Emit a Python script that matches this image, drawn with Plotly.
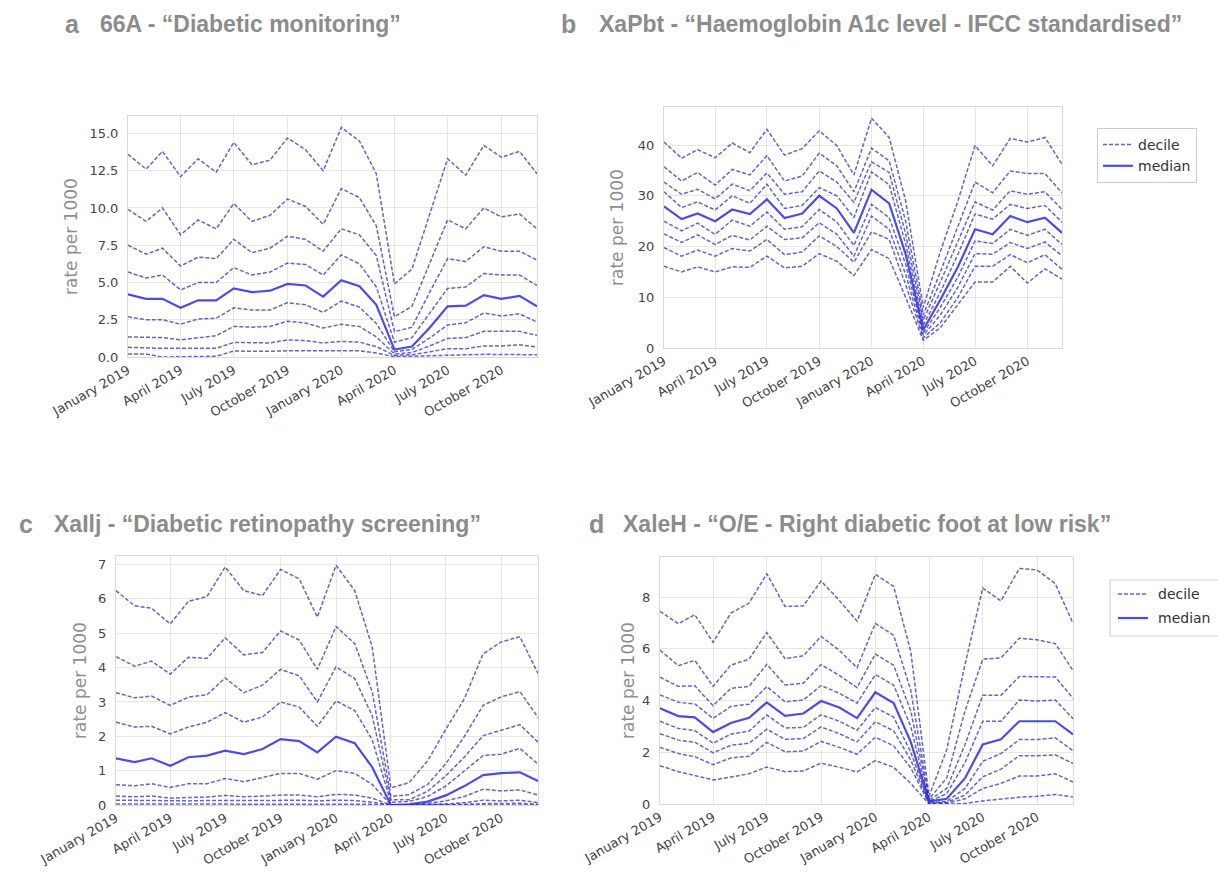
import plotly.graph_objects as go
import pandas as pd

# ---------------- data ----------------
months = pd.date_range("2019-01-01", periods=24, freq="MS")
tick_text = ["January 2019", "April 2019", "July 2019", "October 2019",
             "January 2020", "April 2020", "July 2020", "October 2020"]

# panel a : 66A "Diabetic monitoring"
a_p10 = [0.2, 0.2, 0.0, 0.0, 0.0, 0.05, 0.4, 0.38, 0.38, 0.42, 0.42, 0.4, 0.43, 0.42, 0.27, 0.03, 0.05, 0.1, 0.15, 0.15, 0.18, 0.18, 0.2, 0.15]
a_p20 = [0.65, 0.6, 0.58, 0.58, 0.6, 0.58, 0.98, 0.94, 0.94, 1.15, 1.1, 0.94, 1.05, 1.0, 0.7, 0.1, 0.15, 0.35, 0.56, 0.56, 0.74, 0.74, 0.82, 0.67]
a_p30 = [1.35, 1.3, 1.3, 1.15, 1.27, 1.43, 2.05, 2.0, 2.05, 2.4, 2.28, 1.94, 2.2, 2.05, 1.35, 0.2, 0.3, 0.75, 1.25, 1.3, 1.72, 1.72, 1.72, 1.45]
a_p40 = [2.7, 2.5, 2.5, 2.2, 2.55, 2.6, 3.3, 3.15, 3.15, 3.65, 3.5, 3.0, 3.75, 3.35, 2.25, 0.35, 0.5, 1.3, 2.15, 2.3, 2.95, 2.75, 2.9, 2.35]
a_p50 = [4.2, 3.9, 3.9, 3.3, 3.8, 3.8, 4.6, 4.35, 4.45, 4.9, 4.8, 4.05, 5.15, 4.75, 3.5, 0.5, 0.7, 2.0, 3.4, 3.45, 4.15, 3.9, 4.1, 3.4]
a_p60 = [5.7, 5.3, 5.5, 4.5, 5.0, 5.0, 6.0, 5.5, 5.7, 6.3, 6.2, 5.5, 6.85, 6.25, 4.7, 1.0, 1.3, 3.0, 4.6, 4.7, 5.6, 5.5, 5.5, 4.8]
a_p70 = [7.5, 6.9, 7.3, 6.1, 6.7, 6.6, 7.9, 7.0, 7.3, 8.1, 7.9, 7.1, 8.6, 8.2, 6.8, 1.7, 2.0, 4.4, 6.6, 6.4, 7.4, 7.1, 7.1, 6.5]
a_p80 = [9.9, 9.1, 10.0, 8.2, 9.2, 8.6, 10.3, 9.1, 9.5, 10.6, 10.1, 8.9, 11.3, 10.7, 8.8, 2.7, 3.4, 6.3, 9.2, 8.6, 10.0, 9.4, 9.6, 8.6]
a_p90 = [13.6, 12.6, 13.8, 12.1, 13.3, 12.4, 14.4, 12.9, 13.2, 14.7, 13.9, 12.5, 15.4, 14.5, 12.3, 4.9, 5.9, 9.6, 13.3, 12.2, 14.2, 13.4, 13.8, 12.3]

# panel b : XaPbt "Haemoglobin A1c level - IFCC standardised"
b_p10 = [16.1, 15.0, 16.0, 15.0, 16.0, 15.9, 18.1, 15.8, 16.1, 18.6, 17.1, 14.3, 19.4, 17.6, 10.0, 1.5, 4.0, 8.5, 13.0, 13.0, 16.1, 12.8, 15.6, 13.6]
b_p20 = [19.8, 18.1, 19.3, 18.1, 19.6, 19.1, 21.4, 18.4, 18.9, 22.1, 20.0, 16.9, 22.9, 21.4, 12.5, 2.0, 5.0, 10.0, 16.1, 16.1, 18.4, 16.8, 18.4, 15.5]
b_p30 = [22.5, 20.8, 22.3, 20.4, 22.2, 21.3, 24.0, 21.4, 21.7, 24.7, 22.4, 18.1, 26.0, 23.4, 14.5, 2.5, 6.5, 12.0, 18.6, 18.5, 20.8, 19.6, 20.9, 18.2]
b_p40 = [25.0, 23.1, 24.6, 22.4, 25.2, 24.0, 26.8, 23.4, 23.9, 27.3, 24.8, 20.2, 28.3, 25.7, 16.5, 3.0, 8.0, 14.0, 21.1, 20.6, 23.4, 22.2, 23.4, 20.4]
b_p50 = [27.9, 25.4, 26.5, 25.0, 27.3, 26.4, 29.3, 25.6, 26.5, 30.0, 27.5, 22.7, 31.2, 28.5, 18.5, 3.6, 9.5, 16.0, 23.4, 22.4, 26.0, 24.8, 25.7, 22.7]
b_p60 = [30.8, 27.7, 28.8, 27.2, 30.0, 28.5, 32.3, 27.5, 28.1, 31.6, 30.0, 25.7, 34.7, 32.2, 20.5, 4.5, 11.0, 18.5, 26.4, 25.4, 28.3, 27.5, 28.1, 24.8]
b_p70 = [32.7, 30.3, 31.3, 29.4, 32.3, 31.0, 34.5, 30.3, 30.8, 34.9, 32.7, 28.7, 36.7, 34.6, 22.5, 5.5, 13.0, 21.0, 28.8, 27.2, 31.0, 30.3, 30.8, 27.3]
b_p80 = [35.7, 32.9, 34.6, 32.1, 35.2, 34.1, 37.9, 32.9, 33.9, 38.4, 35.9, 30.8, 39.4, 36.9, 25.0, 6.5, 15.0, 24.0, 32.7, 30.6, 34.9, 34.4, 34.4, 30.6]
b_p90 = [40.6, 37.4, 39.1, 37.5, 40.4, 38.5, 43.1, 38.0, 39.3, 42.8, 39.9, 34.1, 45.3, 41.5, 29.0, 8.0, 19.0, 29.0, 39.9, 35.9, 41.3, 40.6, 41.5, 36.2]

# panel c : XaIIj "Diabetic retinopathy screening"
c_p10 = [0.03, 0.03, 0.03, 0.02, 0.02, 0.03, 0.03, 0.03, 0.03, 0.03, 0.03, 0.02, 0.03, 0.03, 0.02, 0.0, 0.0, 0.0, 0.0, 0.0, 0.01, 0.01, 0.01, 0.0]
c_p20 = [0.14, 0.13, 0.13, 0.12, 0.12, 0.13, 0.14, 0.13, 0.13, 0.14, 0.14, 0.12, 0.14, 0.13, 0.08, 0.0, 0.0, 0.0, 0.01, 0.02, 0.04, 0.04, 0.05, 0.02]
c_p30 = [0.26, 0.24, 0.26, 0.2, 0.22, 0.23, 0.28, 0.24, 0.26, 0.29, 0.29, 0.24, 0.31, 0.29, 0.2, 0.0, 0.0, 0.01, 0.03, 0.07, 0.14, 0.12, 0.14, 0.07]
c_p40 = [0.59, 0.56, 0.62, 0.51, 0.62, 0.62, 0.77, 0.68, 0.8, 0.92, 0.92, 0.75, 1.0, 0.92, 0.6, 0.0, 0.01, 0.05, 0.12, 0.25, 0.46, 0.41, 0.44, 0.29]
c_p50 = [1.36, 1.25, 1.36, 1.14, 1.39, 1.44, 1.58, 1.48, 1.63, 1.92, 1.86, 1.53, 1.99, 1.8, 1.1, 0.0, 0.02, 0.1, 0.28, 0.55, 0.87, 0.93, 0.95, 0.7]
c_p60 = [2.41, 2.27, 2.29, 2.07, 2.27, 2.41, 2.69, 2.41, 2.56, 3.0, 2.85, 2.29, 3.03, 2.75, 1.9, 0.08, 0.1, 0.25, 0.55, 1.0, 1.44, 1.48, 1.65, 1.19]
c_p70 = [3.27, 3.12, 3.17, 2.9, 3.14, 3.21, 3.7, 3.27, 3.49, 3.95, 3.76, 3.0, 4.02, 3.68, 2.6, 0.15, 0.15, 0.4, 0.85, 1.4, 2.02, 2.17, 2.34, 1.83]
c_p80 = [4.32, 4.04, 4.19, 3.81, 4.3, 4.27, 4.87, 4.37, 4.44, 5.07, 4.8, 3.95, 5.2, 4.7, 3.3, 0.25, 0.3, 0.6, 1.2, 2.0, 2.9, 3.15, 3.3, 2.55]
c_p90 = [6.24, 5.8, 5.73, 5.27, 5.93, 6.07, 6.93, 6.24, 6.1, 6.86, 6.58, 5.47, 6.98, 6.24, 4.6, 0.5, 0.65, 1.29, 2.2, 3.1, 4.4, 4.75, 4.9, 3.83]

# panel d : XaleH "O/E - Right diabetic foot at low risk"
d_p10 = [1.48, 1.25, 1.1, 0.93, 1.04, 1.17, 1.43, 1.25, 1.28, 1.58, 1.42, 1.24, 1.68, 1.42, 0.8, 0.0, 0.0, 0.02, 0.12, 0.2, 0.26, 0.3, 0.37, 0.27]
d_p20 = [2.19, 1.95, 1.83, 1.52, 1.78, 1.85, 2.38, 2.02, 2.05, 2.42, 2.19, 1.92, 2.58, 2.25, 1.4, 0.02, 0.03, 0.2, 0.6, 0.8, 1.08, 1.08, 1.17, 0.85]
d_p30 = [2.72, 2.47, 2.39, 1.98, 2.27, 2.35, 2.89, 2.5, 2.53, 2.98, 2.72, 2.4, 3.18, 2.83, 1.7, 0.03, 0.06, 0.35, 1.05, 1.35, 1.87, 1.87, 1.9, 1.57]
d_p40 = [3.2, 2.92, 2.84, 2.35, 2.7, 2.82, 3.44, 2.94, 2.96, 3.45, 3.2, 2.85, 3.73, 3.36, 2.0, 0.05, 0.1, 0.6, 1.65, 1.95, 2.49, 2.49, 2.56, 2.06]
d_p50 = [3.7, 3.4, 3.35, 2.78, 3.13, 3.33, 3.93, 3.41, 3.5, 3.98, 3.73, 3.32, 4.32, 3.9, 2.4, 0.1, 0.2, 1.0, 2.3, 2.5, 3.2, 3.2, 3.2, 2.69]
d_p60 = [4.22, 3.93, 3.87, 3.31, 3.77, 3.86, 4.54, 3.95, 4.02, 4.58, 4.28, 3.9, 5.0, 4.6, 3.0, 0.1, 0.4, 1.6, 3.2, 3.2, 4.02, 3.98, 4.02, 3.3]
d_p70 = [4.9, 4.55, 4.57, 3.8, 4.47, 4.55, 5.4, 4.6, 4.67, 5.39, 4.97, 4.5, 5.8, 5.36, 3.6, 0.15, 0.6, 2.3, 4.2, 4.2, 4.93, 4.93, 4.91, 4.09]
d_p80 = [5.95, 5.35, 5.55, 4.55, 5.37, 5.6, 6.63, 5.62, 5.73, 6.48, 5.94, 5.27, 6.98, 6.52, 4.4, 0.2, 1.0, 3.6, 5.6, 5.65, 6.41, 6.35, 6.2, 5.16]
d_p90 = [7.45, 6.97, 7.32, 6.25, 7.38, 7.77, 8.9, 7.64, 7.66, 8.62, 7.87, 7.07, 8.88, 8.41, 5.9, 0.3, 2.1, 5.4, 8.35, 7.85, 9.11, 9.05, 8.52, 6.98]

a_ticks = [0, 2.5, 5, 7.5, 10, 12.5, 15]
a_ticktext = ["0.0", "2.5", "5.0", "7.5", "10.0", "12.5", "15.0"]
b_ticks = [0, 10, 20, 30, 40]
c_ticks = [0, 1, 2, 3, 4, 5, 6, 7]
d_ticks = [0, 2, 4, 6, 8]

titles = [
    ("a", "66A - \u201cDiabetic monitoring\u201d"),
    ("b", "XaPbt - \u201cHaemoglobin A1c level - IFCC standardised\u201d"),
    ("c", "XaIlj - \u201cDiabetic retinopathy screening\u201d"),
    ("d", "XaleH - \u201cO/E - Right diabetic foot at low risk\u201d"),
]
legend_labels = ["decile", "median"]

# ---------------- layout geometry (pixels) ----------------
W, H = 1218, 879
boxes = {  # left, right, top, bottom
    "a": (128, 537, 116, 357),
    "b": (664, 1062, 107, 348),
    "c": (116, 538, 556, 805),
    "d": (660, 1073, 557, 804),
}

DEC_COLOR = "rgba(40,40,175,0.72)"
MED_COLOR = "rgba(45,45,225,0.85)"
GREY_TXT = "#8c8c8c"

panels = [
    ("a", "x", "y", [a_p10, a_p20, a_p30, a_p40, a_p60, a_p70, a_p80, a_p90], a_p50, 16.17, a_ticks, a_ticktext, False),
    ("b", "x2", "y2", [b_p10, b_p20, b_p30, b_p40, b_p60, b_p70, b_p80, b_p90], b_p50, 47.5, b_ticks, [str(v) for v in b_ticks], True),
    ("c", "x3", "y3", [c_p10, c_p20, c_p30, c_p40, c_p60, c_p70, c_p80, c_p90], c_p50, 7.25, c_ticks, [str(v) for v in c_ticks], False),
    ("d", "x4", "y4", [d_p10, d_p20, d_p30, d_p40, d_p60, d_p70, d_p80, d_p90], d_p50, 9.55, d_ticks, [str(v) for v in d_ticks], False),
]

fig = go.Figure()
layout = dict(
    width=W, height=H, margin=dict(l=0, r=0, t=0, b=0),
    paper_bgcolor="white", plot_bgcolor="white",
    font=dict(family="DejaVu Sans", color="#444"),
    showlegend=True,
)
annotations = []
shapes = []

for key, xa, ya, deciles, median, ytop, yticks, yticktext, leg in panels:
    for i, d in enumerate(deciles):
        fig.add_trace(go.Scatter(
            x=months, y=d, xaxis=xa, yaxis=ya, mode="lines",
            line=dict(color=DEC_COLOR, width=1.5, dash="4px,2px"),
            name=legend_labels[0], showlegend=(leg and i == 0), hoverinfo="skip"))
    fig.add_trace(go.Scatter(
        x=months, y=median, xaxis=xa, yaxis=ya, mode="lines",
        line=dict(color=MED_COLOR, width=2.2),
        name=legend_labels[1], showlegend=leg, hoverinfo="skip"))

    l, r, t, b = boxes[key]
    xname = "xaxis" if xa == "x" else "xaxis" + xa[1:]
    yname = "yaxis" if ya == "y" else "yaxis" + ya[1:]
    layout[xname] = dict(
        domain=[l / W, r / W], anchor=ya, type="date",
        range=[months[0], months[-1]],
        tickvals=list(months[::3]), ticktext=tick_text, tickangle=-30,
        tickfont=dict(size=13, color="#444", family="DejaVu Sans"),
        showgrid=True, gridcolor="#e6e6e6", gridwidth=1,
        showline=True, linecolor="#d9d9d9", linewidth=1, mirror=True,
        ticks="", zeroline=False, automargin=False,
    )
    layout[yname] = dict(
        domain=[1 - b / H, 1 - t / H], anchor=xa,
        range=[0, ytop], tickvals=yticks, ticktext=yticktext,
        tickfont=dict(size=13, color="#444", family="DejaVu Sans"),
        showgrid=True, gridcolor="#e6e6e6", gridwidth=1,
        showline=True, linecolor="#d9d9d9", linewidth=1, mirror=True,
        ticks="", zeroline=False, automargin=False, ticklabelstandoff=6,
    )

# y-axis titles
ytitle_pos = {"a": (71, 237), "b": (617, 228), "c": (80, 681), "d": (628, 681)}
for k, (px, py) in ytitle_pos.items():
    annotations.append(dict(
        text="rate per 1000", x=px / W, y=1 - py / H, xref="paper", yref="paper",
        showarrow=False, textangle=-90, xanchor="center", yanchor="middle",
        font=dict(size=17, color="#8f8f8f", family="DejaVu Sans")))

# panel titles
title_pos = {"a": (63, 98, 24), "b": (559, 597, 24), "c": (17, 52, 524), "d": (587, 621, 524)}
for letter, text in titles:
    lx, tx, ty = title_pos[letter]
    annotations.append(dict(
        text="<b>" + letter + "</b>", x=lx / W, y=1 - ty / H, xref="paper", yref="paper",
        showarrow=False, xanchor="left", yanchor="middle",
        font=dict(size=25, color=GREY_TXT, family="Liberation Sans")))
    annotations.append(dict(
        text="<b>" + text + "</b>", x=tx / W, y=1 - ty / H, xref="paper", yref="paper",
        showarrow=False, xanchor="left", yanchor="middle",
        font=dict(size=23, color=GREY_TXT, family="Liberation Sans")))

# legend of panel d: drawn by hand; its box runs past the right edge as in the source
lg_l, lg_t, lg_b = 1110, 580, 636
shapes.append(dict(type="rect", xref="paper", yref="paper",
                   x0=lg_l / W, x1=1260 / W, y0=1 - lg_b / H, y1=1 - lg_t / H,
                   line=dict(color="#cccccc", width=1), fillcolor="white", layer="above"))
rows = [(594, dict(color=DEC_COLOR, width=1.5, dash="4px,2px")),
        (618, dict(color=MED_COLOR, width=2.2))]
for (ry, lstyle), lab in zip(rows, legend_labels):
    shapes.append(dict(type="line", xref="paper", yref="paper",
                       x0=1118 / W, x1=1148 / W, y0=1 - ry / H, y1=1 - ry / H,
                       line=lstyle, layer="above"))
    annotations.append(dict(
        text=lab, x=1156 / W, y=1 - ry / H, xref="paper", yref="paper",
        showarrow=False, xanchor="left", yanchor="middle",
        font=dict(size=14, color="#333", family="DejaVu Sans")))

layout["annotations"] = annotations
layout["shapes"] = shapes
layout["legend"] = dict(x=1097 / W, y=1 - 128 / H, bgcolor="white", bordercolor="#cccccc",
                        borderwidth=1, font=dict(size=14, color="#333", family="DejaVu Sans"),
                        itemwidth=30, tracegroupgap=2, xanchor="left", yanchor="top")

fig.update_layout(**layout)
fig.write_html("out.html")
